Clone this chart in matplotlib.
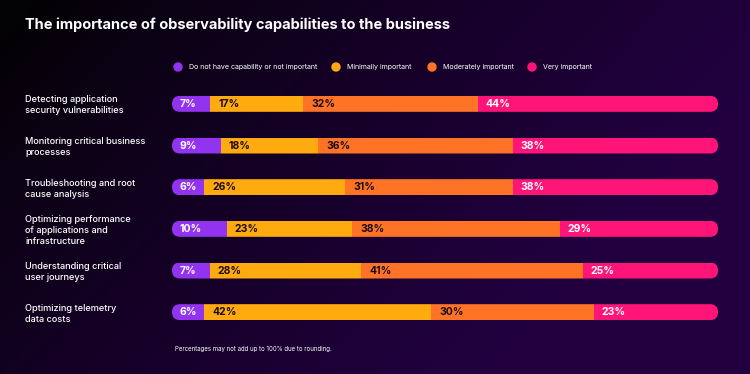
import numpy as np
import matplotlib.pyplot as plt
from matplotlib.patches import FancyBboxPatch, Ellipse
from matplotlib.colors import to_rgb

# dane
categories = ["Detecting application\nsecurity vulnerabilities",
              "Monitoring critical business\nprocesses",
              "Troubleshooting and root\ncause analysis",
              "Optimizing performance\nof applications and\ninfrastructure",
              "Understanding critical\nuser journeys",
              "Optimizing telemetry\ndata costs"]
series = ["Do not have capability or not important", "Minimally important",
          "Moderately important", "Very important"]
not_important = [7, 9, 6, 10, 7, 6]
minimally = [17, 18, 26, 23, 28, 42]
moderately = [32, 36, 31, 38, 41, 30]
very = [44, 38, 38, 29, 25, 23]

colors = ["#9233f0", "#ffaa0f", "#ff7326", "#ff1478"]
label_colors = ["white", "#1a0a10", "#1a0a10", "white"]

W, H = 750, 374
fig = plt.figure(figsize=(7.5, 3.74), dpi=100)

# tlo z gradientem
bg = fig.add_axes([0, 0, 1, 1])
gx, gy = np.meshgrid(np.linspace(0, 1, 300), np.linspace(0, 1, 150))
t = np.clip(gx * 0.95 + gy * 0.45 - 0.05, 0, 1) ** 0.8
c0 = np.array(to_rgb("#030204"))
c1 = np.array(to_rgb("#220040"))
img = c0 + (c1 - c0) * t[..., None]
bg.imshow(img, extent=[0, 1, 0, 1], aspect="auto", origin="upper")
bg.set_xlim(0, 1)
bg.set_ylim(0, 1)
bg.set_axis_off()

# os z paskami (piksele: x 172-718, y 83-333)
x0, x1, ytop, ybot = 172, 718, 83, 333
ax = fig.add_axes([x0 / W, 1 - ybot / H, (x1 - x0) / W, (ybot - ytop) / H])
ax.set_xlim(0, 100)
ax.set_ylim(len(categories) - 0.5, -0.5)
ax.set_axis_off()

data = np.array([not_important, minimally, moderately, very], dtype=float)
totals = data.sum(axis=0)
bar_h = 16 / ((ybot - ytop) / len(categories))
px_per_x = (x1 - x0) / 100
px_per_y = (ybot - ytop) / len(categories)
r_x = 8 / px_per_x
aspect = (8 / px_per_y) / r_x

for i in range(len(categories)):
    clip = FancyBboxPatch((0, i - bar_h / 2), 100, bar_h,
                          boxstyle=f"round,pad=0,rounding_size={r_x}",
                          mutation_aspect=aspect, facecolor="none",
                          edgecolor="none", transform=ax.transData)
    ax.add_patch(clip)
    left = 0
    for j in range(4):
        w = data[j, i] / totals[i] * 100
        b = ax.barh(i, w, left=left, height=bar_h, color=colors[j],
                    linewidth=0)
        b[0].set_clip_path(clip)
        ax.text(left + 8 / px_per_x, i, f"{int(data[j, i])}%",
                color=label_colors[j], fontsize=7.5, fontweight="bold",
                family="Inter", ha="left", va="center")
        left += w

    fig.text(25 / W, 1 - (83 + px_per_y * (i + 0.5)) / H - 0.004,
             categories[i], color="white", fontsize=6.6, fontweight="medium",
             family="Inter", ha="left", va="center", linespacing=1.25)

# tytul
fig.text(25 / W, 1 - 25 / H, "The importance of observability capabilities to the business",
         color="white", fontsize=10.5, fontweight="bold", family="Inter",
         ha="left", va="center")

# legenda
dot_x = [178, 336, 432, 532]
for j in range(4):
    bg.add_patch(Ellipse((dot_x[j] / W, 1 - 67 / H), 8 / W, 8 / H,
                         color=colors[j]))
    fig.text((dot_x[j] + 11) / W, 1 - 67 / H, series[j], color="white",
             fontsize=5.1, family="Inter", ha="left", va="center")

# przypis
fig.text(175 / W, 1 - 349 / H, "Percentages may not add up to 100% due to rounding.",
         color="white", fontsize=4.4, family="Inter", ha="left", va="center")

plt.savefig("out.png", dpi=100)
